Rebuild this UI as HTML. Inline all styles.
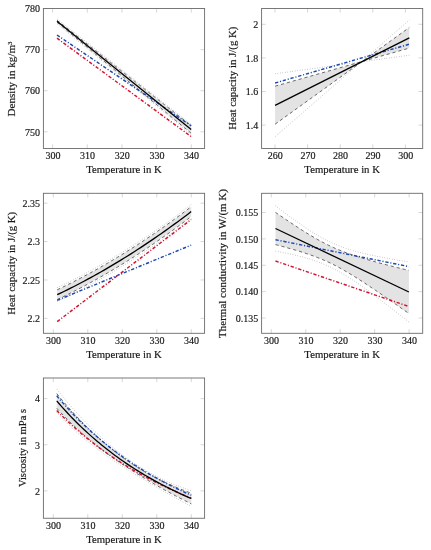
<!DOCTYPE html>
<html><head><meta charset="utf-8"><style>
html,body{margin:0;padding:0;background:#fff;}
svg{display:block;}
text{font-family:"Liberation Serif", serif;fill:#1a1a1a;stroke:#1a1a1a;stroke-width:0.18px;}
</style></head><body>
<svg width="431" height="550" viewBox="0 0 431 550">
<rect width="431" height="550" fill="#fff"/>
<polygon points="57.00,20.30 60.35,22.93 63.71,25.57 67.06,28.20 70.42,30.84 73.78,33.48 77.13,36.11 80.48,38.74 83.84,41.38 87.19,44.01 90.55,46.65 93.91,49.29 97.26,51.92 100.61,54.56 103.97,57.19 107.32,59.83 110.68,62.46 114.03,65.10 117.39,67.73 120.74,70.36 124.10,73.00 127.45,75.64 130.81,78.27 134.16,80.91 137.52,83.54 140.88,86.17 144.23,88.81 147.58,91.44 150.94,94.08 154.29,96.72 157.65,99.35 161.00,101.98 164.36,104.62 167.71,107.25 171.07,109.89 174.43,112.53 177.78,115.16 181.13,117.80 184.49,120.43 187.84,123.06 191.20,125.70 191.20,133.30 187.84,130.52 184.49,127.75 181.13,124.98 177.78,122.20 174.43,119.43 171.07,116.65 167.71,113.87 164.36,111.10 161.00,108.33 157.65,105.55 154.29,102.78 150.94,100.00 147.58,97.22 144.23,94.45 140.88,91.67 137.52,88.90 134.16,86.12 130.81,83.35 127.45,80.58 124.10,77.80 120.74,75.02 117.39,72.25 114.03,69.48 110.68,66.70 107.32,63.92 103.97,61.15 100.61,58.38 97.26,55.60 93.91,52.83 90.55,50.05 87.19,47.27 83.84,44.50 80.48,41.73 77.13,38.95 73.78,36.18 70.42,33.40 67.06,30.62 63.71,27.85 60.35,25.07 57.00,22.30" fill="#e3e3e3" stroke="none"/>
<polyline points="57.00,18.90 60.35,21.54 63.71,24.17 67.06,26.80 70.42,29.44 73.78,32.08 77.13,34.71 80.48,37.34 83.84,39.98 87.19,42.61 90.55,45.25 93.91,47.89 97.26,50.52 100.61,53.16 103.97,55.79 107.32,58.43 110.68,61.06 114.03,63.70 117.39,66.33 120.74,68.96 124.10,71.60 127.45,74.23 130.81,76.87 134.16,79.50 137.52,82.14 140.88,84.77 144.23,87.41 147.58,90.04 150.94,92.68 154.29,95.31 157.65,97.95 161.00,100.58 164.36,103.22 167.71,105.85 171.07,108.49 174.43,111.13 177.78,113.76 181.13,116.39 184.49,119.03 187.84,121.66 191.20,124.30" fill="none" stroke="#5a5a5a" stroke-width="0.6" stroke-dasharray="0.55 1.95" stroke-linecap="butt" />
<polyline points="57.00,23.70 60.35,26.47 63.71,29.25 67.06,32.02 70.42,34.80 73.78,37.58 77.13,40.35 80.48,43.12 83.84,45.90 87.19,48.67 90.55,51.45 93.91,54.23 97.26,57.00 100.61,59.77 103.97,62.55 107.32,65.33 110.68,68.10 114.03,70.88 117.39,73.65 120.74,76.42 124.10,79.20 127.45,81.98 130.81,84.75 134.16,87.53 137.52,90.30 140.88,93.08 144.23,95.85 147.58,98.62 150.94,101.40 154.29,104.18 157.65,106.95 161.00,109.73 164.36,112.50 167.71,115.27 171.07,118.05 174.43,120.83 177.78,123.60 181.13,126.38 184.49,129.15 187.84,131.92 191.20,134.70" fill="none" stroke="#5a5a5a" stroke-width="0.6" stroke-dasharray="0.55 1.95" stroke-linecap="butt" />
<polyline points="57.00,20.30 60.35,22.93 63.71,25.57 67.06,28.20 70.42,30.84 73.78,33.48 77.13,36.11 80.48,38.74 83.84,41.38 87.19,44.01 90.55,46.65 93.91,49.29 97.26,51.92 100.61,54.56 103.97,57.19 107.32,59.83 110.68,62.46 114.03,65.10 117.39,67.73 120.74,70.36 124.10,73.00 127.45,75.64 130.81,78.27 134.16,80.91 137.52,83.54 140.88,86.17 144.23,88.81 147.58,91.44 150.94,94.08 154.29,96.72 157.65,99.35 161.00,101.98 164.36,104.62 167.71,107.25 171.07,109.89 174.43,112.53 177.78,115.16 181.13,117.80 184.49,120.43 187.84,123.06 191.20,125.70" fill="none" stroke="#444" stroke-width="0.8" stroke-dasharray="3.2 2.9" stroke-linecap="butt" />
<polyline points="57.00,22.30 60.35,25.07 63.71,27.85 67.06,30.62 70.42,33.40 73.78,36.18 77.13,38.95 80.48,41.73 83.84,44.50 87.19,47.27 90.55,50.05 93.91,52.83 97.26,55.60 100.61,58.38 103.97,61.15 107.32,63.92 110.68,66.70 114.03,69.48 117.39,72.25 120.74,75.02 124.10,77.80 127.45,80.58 130.81,83.35 134.16,86.12 137.52,88.90 140.88,91.67 144.23,94.45 147.58,97.22 150.94,100.00 154.29,102.78 157.65,105.55 161.00,108.33 164.36,111.10 167.71,113.87 171.07,116.65 174.43,119.43 177.78,122.20 181.13,124.98 184.49,127.75 187.84,130.52 191.20,133.30" fill="none" stroke="#444" stroke-width="0.8" stroke-dasharray="3.2 2.9" stroke-linecap="butt" />
<polyline points="57.00,38.20 191.20,136.60" fill="none" stroke="#d4112e" stroke-width="1.45" stroke-dasharray="3.3 1.8 1.1 1.8" stroke-linecap="butt" />
<polyline points="57.00,35.00 191.20,125.80" fill="none" stroke="#1a48b0" stroke-width="1.45" stroke-dasharray="3.3 1.8 1.1 1.8" stroke-linecap="butt" />
<polyline points="57.00,21.30 191.20,129.50" fill="none" stroke="#000" stroke-width="1.3" stroke-linecap="butt" />
<line x1="52.60" y1="148.50" x2="52.60" y2="144.40" stroke="#cdcdcd" stroke-width="0.8"/>
<line x1="52.60" y1="8.50" x2="52.60" y2="12.60" stroke="#cdcdcd" stroke-width="0.8"/>
<line x1="87.28" y1="148.50" x2="87.28" y2="144.40" stroke="#cdcdcd" stroke-width="0.8"/>
<line x1="87.28" y1="8.50" x2="87.28" y2="12.60" stroke="#cdcdcd" stroke-width="0.8"/>
<line x1="121.95" y1="148.50" x2="121.95" y2="144.40" stroke="#cdcdcd" stroke-width="0.8"/>
<line x1="121.95" y1="8.50" x2="121.95" y2="12.60" stroke="#cdcdcd" stroke-width="0.8"/>
<line x1="156.63" y1="148.50" x2="156.63" y2="144.40" stroke="#cdcdcd" stroke-width="0.8"/>
<line x1="156.63" y1="8.50" x2="156.63" y2="12.60" stroke="#cdcdcd" stroke-width="0.8"/>
<line x1="191.30" y1="148.50" x2="191.30" y2="144.40" stroke="#cdcdcd" stroke-width="0.8"/>
<line x1="191.30" y1="8.50" x2="191.30" y2="12.60" stroke="#cdcdcd" stroke-width="0.8"/>
<line x1="43.40" y1="131.80" x2="47.50" y2="131.80" stroke="#cdcdcd" stroke-width="0.8"/>
<line x1="204.60" y1="131.80" x2="200.50" y2="131.80" stroke="#cdcdcd" stroke-width="0.8"/>
<line x1="43.40" y1="90.73" x2="47.50" y2="90.73" stroke="#cdcdcd" stroke-width="0.8"/>
<line x1="204.60" y1="90.73" x2="200.50" y2="90.73" stroke="#cdcdcd" stroke-width="0.8"/>
<line x1="43.40" y1="49.67" x2="47.50" y2="49.67" stroke="#cdcdcd" stroke-width="0.8"/>
<line x1="204.60" y1="49.67" x2="200.50" y2="49.67" stroke="#cdcdcd" stroke-width="0.8"/>
<line x1="43.40" y1="8.60" x2="47.50" y2="8.60" stroke="#cdcdcd" stroke-width="0.8"/>
<line x1="204.60" y1="8.60" x2="200.50" y2="8.60" stroke="#cdcdcd" stroke-width="0.8"/>
<rect x="43.40" y="8.50" width="161.20" height="140.00" fill="none" stroke="#6a6a6a" stroke-width="0.9"/>
<polygon points="275.10,86.20 409.30,48.10 409.30,27.50 275.10,124.20" fill="#e3e3e3" stroke="none"/>
<polyline points="275.10,73.80 409.30,55.20" fill="none" stroke="#5a5a5a" stroke-width="0.6" stroke-dasharray="0.55 1.95" stroke-linecap="butt" />
<polyline points="275.10,136.70 409.30,20.10" fill="none" stroke="#5a5a5a" stroke-width="0.6" stroke-dasharray="0.55 1.95" stroke-linecap="butt" />
<polyline points="275.10,86.20 409.30,48.10" fill="none" stroke="#444" stroke-width="0.8" stroke-dasharray="3.2 2.9" stroke-linecap="butt" />
<polyline points="275.10,124.20 409.30,27.50" fill="none" stroke="#444" stroke-width="0.8" stroke-dasharray="3.2 2.9" stroke-linecap="butt" />
<polyline points="275.10,83.00 409.30,44.20" fill="none" stroke="#1a48b0" stroke-width="1.45" stroke-dasharray="3.3 1.8 1.1 1.8" stroke-linecap="butt" />
<polyline points="275.10,105.30 409.30,37.90" fill="none" stroke="#000" stroke-width="1.3" stroke-linecap="butt" />
<line x1="275.00" y1="148.50" x2="275.00" y2="144.40" stroke="#cdcdcd" stroke-width="0.8"/>
<line x1="275.00" y1="8.50" x2="275.00" y2="12.60" stroke="#cdcdcd" stroke-width="0.8"/>
<line x1="307.60" y1="148.50" x2="307.60" y2="144.40" stroke="#cdcdcd" stroke-width="0.8"/>
<line x1="307.60" y1="8.50" x2="307.60" y2="12.60" stroke="#cdcdcd" stroke-width="0.8"/>
<line x1="340.20" y1="148.50" x2="340.20" y2="144.40" stroke="#cdcdcd" stroke-width="0.8"/>
<line x1="340.20" y1="8.50" x2="340.20" y2="12.60" stroke="#cdcdcd" stroke-width="0.8"/>
<line x1="372.80" y1="148.50" x2="372.80" y2="144.40" stroke="#cdcdcd" stroke-width="0.8"/>
<line x1="372.80" y1="8.50" x2="372.80" y2="12.60" stroke="#cdcdcd" stroke-width="0.8"/>
<line x1="405.40" y1="148.50" x2="405.40" y2="144.40" stroke="#cdcdcd" stroke-width="0.8"/>
<line x1="405.40" y1="8.50" x2="405.40" y2="12.60" stroke="#cdcdcd" stroke-width="0.8"/>
<line x1="261.60" y1="125.10" x2="265.70" y2="125.10" stroke="#cdcdcd" stroke-width="0.8"/>
<line x1="422.70" y1="125.10" x2="418.60" y2="125.10" stroke="#cdcdcd" stroke-width="0.8"/>
<line x1="261.60" y1="91.50" x2="265.70" y2="91.50" stroke="#cdcdcd" stroke-width="0.8"/>
<line x1="422.70" y1="91.50" x2="418.60" y2="91.50" stroke="#cdcdcd" stroke-width="0.8"/>
<line x1="261.60" y1="57.90" x2="265.70" y2="57.90" stroke="#cdcdcd" stroke-width="0.8"/>
<line x1="422.70" y1="57.90" x2="418.60" y2="57.90" stroke="#cdcdcd" stroke-width="0.8"/>
<line x1="261.60" y1="24.30" x2="265.70" y2="24.30" stroke="#cdcdcd" stroke-width="0.8"/>
<line x1="422.70" y1="24.30" x2="418.60" y2="24.30" stroke="#cdcdcd" stroke-width="0.8"/>
<rect x="261.60" y="8.50" width="161.10" height="140.00" fill="none" stroke="#6a6a6a" stroke-width="0.9"/>
<polygon points="57.20,289.80 60.55,288.20 63.90,286.58 67.25,284.93 70.60,283.25 73.95,281.56 77.30,279.83 80.65,278.09 84.00,276.32 87.35,274.52 90.70,272.70 94.05,270.85 97.40,268.99 100.75,267.09 104.10,265.17 107.45,263.23 110.80,261.26 114.15,259.27 117.50,257.25 120.85,255.21 124.20,253.15 127.55,251.06 130.90,248.94 134.25,246.81 137.60,244.64 140.95,242.46 144.30,240.24 147.65,238.01 151.00,235.75 154.35,233.46 157.70,231.15 161.05,228.81 164.40,226.46 167.75,224.07 171.10,221.66 174.45,219.23 177.80,216.77 181.15,214.29 184.50,211.79 187.85,209.26 191.20,206.70 191.20,216.50 187.85,219.06 184.50,221.59 181.15,224.09 177.80,226.57 174.45,229.03 171.10,231.46 167.75,233.87 164.40,236.26 161.05,238.61 157.70,240.95 154.35,243.26 151.00,245.55 147.65,247.81 144.30,250.04 140.95,252.26 137.60,254.44 134.25,256.61 130.90,258.74 127.55,260.86 124.20,262.95 120.85,265.01 117.50,267.05 114.15,269.07 110.80,271.06 107.45,273.03 104.10,274.97 100.75,276.89 97.40,278.79 94.05,280.65 90.70,282.50 87.35,284.32 84.00,286.12 80.65,287.89 77.30,289.63 73.95,291.36 70.60,293.05 67.25,294.73 63.90,296.38 60.55,298.00 57.20,299.60" fill="#e3e3e3" stroke="none"/>
<polyline points="57.20,287.70 60.55,286.10 63.90,284.48 67.25,282.83 70.60,281.15 73.95,279.46 77.30,277.73 80.65,275.99 84.00,274.22 87.35,272.42 90.70,270.60 94.05,268.75 97.40,266.89 100.75,264.99 104.10,263.07 107.45,261.13 110.80,259.16 114.15,257.17 117.50,255.15 120.85,253.11 124.20,251.05 127.55,248.96 130.90,246.84 134.25,244.71 137.60,242.54 140.95,240.36 144.30,238.14 147.65,235.91 151.00,233.65 154.35,231.36 157.70,229.05 161.05,226.71 164.40,224.36 167.75,221.97 171.10,219.56 174.45,217.13 177.80,214.67 181.15,212.19 184.50,209.69 187.85,207.16 191.20,204.60" fill="none" stroke="#5a5a5a" stroke-width="0.6" stroke-dasharray="0.55 1.95" stroke-linecap="butt" />
<polyline points="57.20,301.70 60.55,300.10 63.90,298.48 67.25,296.83 70.60,295.15 73.95,293.46 77.30,291.73 80.65,289.99 84.00,288.22 87.35,286.42 90.70,284.60 94.05,282.75 97.40,280.89 100.75,278.99 104.10,277.07 107.45,275.13 110.80,273.16 114.15,271.17 117.50,269.15 120.85,267.11 124.20,265.05 127.55,262.96 130.90,260.84 134.25,258.71 137.60,256.54 140.95,254.36 144.30,252.14 147.65,249.91 151.00,247.65 154.35,245.36 157.70,243.05 161.05,240.71 164.40,238.36 167.75,235.97 171.10,233.56 174.45,231.13 177.80,228.67 181.15,226.19 184.50,223.69 187.85,221.16 191.20,218.60" fill="none" stroke="#5a5a5a" stroke-width="0.6" stroke-dasharray="0.55 1.95" stroke-linecap="butt" />
<polyline points="57.20,289.80 60.55,288.20 63.90,286.58 67.25,284.93 70.60,283.25 73.95,281.56 77.30,279.83 80.65,278.09 84.00,276.32 87.35,274.52 90.70,272.70 94.05,270.85 97.40,268.99 100.75,267.09 104.10,265.17 107.45,263.23 110.80,261.26 114.15,259.27 117.50,257.25 120.85,255.21 124.20,253.15 127.55,251.06 130.90,248.94 134.25,246.81 137.60,244.64 140.95,242.46 144.30,240.24 147.65,238.01 151.00,235.75 154.35,233.46 157.70,231.15 161.05,228.81 164.40,226.46 167.75,224.07 171.10,221.66 174.45,219.23 177.80,216.77 181.15,214.29 184.50,211.79 187.85,209.26 191.20,206.70" fill="none" stroke="#444" stroke-width="0.8" stroke-dasharray="3.2 2.9" stroke-linecap="butt" />
<polyline points="57.20,299.60 60.55,298.00 63.90,296.38 67.25,294.73 70.60,293.05 73.95,291.36 77.30,289.63 80.65,287.89 84.00,286.12 87.35,284.32 90.70,282.50 94.05,280.65 97.40,278.79 100.75,276.89 104.10,274.97 107.45,273.03 110.80,271.06 114.15,269.07 117.50,267.05 120.85,265.01 124.20,262.95 127.55,260.86 130.90,258.74 134.25,256.61 137.60,254.44 140.95,252.26 144.30,250.04 147.65,247.81 151.00,245.55 154.35,243.26 157.70,240.95 161.05,238.61 164.40,236.26 167.75,233.87 171.10,231.46 174.45,229.03 177.80,226.57 181.15,224.09 184.50,221.59 187.85,219.06 191.20,216.50" fill="none" stroke="#444" stroke-width="0.8" stroke-dasharray="3.2 2.9" stroke-linecap="butt" />
<polyline points="57.20,321.60 191.20,219.50" fill="none" stroke="#d4112e" stroke-width="1.45" stroke-dasharray="3.3 1.8 1.1 1.8" stroke-linecap="butt" />
<polyline points="57.20,300.30 191.20,245.10" fill="none" stroke="#1a48b0" stroke-width="1.45" stroke-dasharray="3.3 1.8 1.1 1.8" stroke-linecap="butt" />
<polyline points="57.20,294.70 60.55,293.10 63.90,291.48 67.25,289.83 70.60,288.15 73.95,286.46 77.30,284.73 80.65,282.99 84.00,281.22 87.35,279.42 90.70,277.60 94.05,275.75 97.40,273.89 100.75,271.99 104.10,270.07 107.45,268.13 110.80,266.16 114.15,264.17 117.50,262.15 120.85,260.11 124.20,258.05 127.55,255.96 130.90,253.84 134.25,251.71 137.60,249.54 140.95,247.36 144.30,245.14 147.65,242.91 151.00,240.65 154.35,238.36 157.70,236.05 161.05,233.71 164.40,231.36 167.75,228.97 171.10,226.56 174.45,224.13 177.80,221.67 181.15,219.19 184.50,216.69 187.85,214.16 191.20,211.60" fill="none" stroke="#000" stroke-width="1.3" stroke-linecap="butt" />
<line x1="53.30" y1="333.30" x2="53.30" y2="329.20" stroke="#cdcdcd" stroke-width="0.8"/>
<line x1="53.30" y1="193.30" x2="53.30" y2="197.40" stroke="#cdcdcd" stroke-width="0.8"/>
<line x1="87.80" y1="333.30" x2="87.80" y2="329.20" stroke="#cdcdcd" stroke-width="0.8"/>
<line x1="87.80" y1="193.30" x2="87.80" y2="197.40" stroke="#cdcdcd" stroke-width="0.8"/>
<line x1="122.30" y1="333.30" x2="122.30" y2="329.20" stroke="#cdcdcd" stroke-width="0.8"/>
<line x1="122.30" y1="193.30" x2="122.30" y2="197.40" stroke="#cdcdcd" stroke-width="0.8"/>
<line x1="156.80" y1="333.30" x2="156.80" y2="329.20" stroke="#cdcdcd" stroke-width="0.8"/>
<line x1="156.80" y1="193.30" x2="156.80" y2="197.40" stroke="#cdcdcd" stroke-width="0.8"/>
<line x1="191.30" y1="333.30" x2="191.30" y2="329.20" stroke="#cdcdcd" stroke-width="0.8"/>
<line x1="191.30" y1="193.30" x2="191.30" y2="197.40" stroke="#cdcdcd" stroke-width="0.8"/>
<line x1="43.40" y1="318.35" x2="47.50" y2="318.35" stroke="#cdcdcd" stroke-width="0.8"/>
<line x1="204.60" y1="318.35" x2="200.50" y2="318.35" stroke="#cdcdcd" stroke-width="0.8"/>
<line x1="43.40" y1="279.97" x2="47.50" y2="279.97" stroke="#cdcdcd" stroke-width="0.8"/>
<line x1="204.60" y1="279.97" x2="200.50" y2="279.97" stroke="#cdcdcd" stroke-width="0.8"/>
<line x1="43.40" y1="241.58" x2="47.50" y2="241.58" stroke="#cdcdcd" stroke-width="0.8"/>
<line x1="204.60" y1="241.58" x2="200.50" y2="241.58" stroke="#cdcdcd" stroke-width="0.8"/>
<line x1="43.40" y1="203.20" x2="47.50" y2="203.20" stroke="#cdcdcd" stroke-width="0.8"/>
<line x1="204.60" y1="203.20" x2="200.50" y2="203.20" stroke="#cdcdcd" stroke-width="0.8"/>
<rect x="43.40" y="193.30" width="161.20" height="140.00" fill="none" stroke="#6a6a6a" stroke-width="0.9"/>
<polygon points="275.50,212.40 277.72,213.93 279.95,215.46 282.17,216.97 284.39,218.48 286.62,219.99 288.84,221.48 291.06,222.97 293.29,224.44 295.51,225.90 297.73,227.35 299.96,228.79 302.18,230.21 304.40,231.62 306.63,233.00 308.85,234.37 311.07,235.71 313.30,237.03 315.52,238.32 317.74,239.58 319.97,240.82 322.19,242.02 324.41,243.18 326.64,244.31 328.86,245.41 331.08,246.47 333.31,247.49 335.53,248.48 337.75,249.43 339.98,250.34 342.20,251.23 344.42,252.08 346.65,252.91 348.87,253.71 351.09,254.48 353.32,255.23 355.54,255.97 357.76,256.68 359.99,257.37 362.21,258.05 364.43,258.72 366.66,259.38 368.88,260.02 371.10,260.65 373.33,261.27 375.55,261.89 377.77,262.49 380.00,263.09 382.22,263.69 384.44,264.27 386.67,264.85 388.89,265.43 391.11,266.00 393.34,266.57 395.56,267.14 397.78,267.70 400.01,268.25 402.23,268.81 404.45,269.36 406.68,269.91 408.90,270.45 408.90,313.55 406.68,311.97 404.45,310.41 402.23,308.84 400.01,307.28 397.78,305.72 395.56,304.16 393.34,302.61 391.11,301.06 388.89,299.52 386.67,297.98 384.44,296.44 382.22,294.91 380.00,293.39 377.77,291.87 375.55,290.36 373.33,288.86 371.10,287.37 368.88,285.88 366.66,284.41 364.43,282.95 362.21,281.50 359.99,280.06 357.76,278.64 355.54,277.23 353.32,275.85 351.09,274.48 348.87,273.14 346.65,271.82 344.42,270.53 342.20,269.27 339.98,268.04 337.75,266.84 335.53,265.67 333.31,264.54 331.08,263.45 328.86,262.39 326.64,261.37 324.41,260.38 322.19,259.43 319.97,258.52 317.74,257.63 315.52,256.78 313.30,255.96 311.07,255.16 308.85,254.38 306.63,253.63 304.40,252.90 302.18,252.19 299.96,251.49 297.73,250.81 295.51,250.15 293.29,249.49 291.06,248.85 288.84,248.22 286.62,247.60 284.39,246.98 282.17,246.38 279.95,245.78 277.72,245.18 275.50,244.60" fill="#e3e3e3" stroke="none"/>
<polyline points="275.50,205.86 277.72,207.56 279.95,209.25 282.17,210.93 284.39,212.59 286.62,214.25 288.84,215.89 291.06,217.53 293.29,219.14 295.51,220.74 297.73,222.32 299.96,223.88 302.18,225.42 304.40,226.94 306.63,228.43 308.85,229.89 311.07,231.33 313.30,232.73 315.52,234.09 317.74,235.42 319.97,236.70 322.19,237.95 324.41,239.14 326.64,240.30 328.86,241.40 331.08,242.46 333.31,243.47 335.53,244.44 337.75,245.36 339.98,246.23 342.20,247.06 344.42,247.86 346.65,248.61 348.87,249.33 351.09,250.01 353.32,250.67 355.54,251.29 357.76,251.89 359.99,252.47 362.21,253.03 364.43,253.56 366.66,254.08 368.88,254.58 371.10,255.07 373.33,255.54 375.55,256.00 377.77,256.45 380.00,256.89 382.22,257.32 384.44,257.74 386.67,258.15 388.89,258.56 391.11,258.95 393.34,259.35 395.56,259.73 397.78,260.11 400.01,260.49 402.23,260.86 404.45,261.23 406.68,261.59 408.90,261.95" fill="none" stroke="#5a5a5a" stroke-width="0.6" stroke-dasharray="0.55 1.95" stroke-linecap="butt" />
<polyline points="275.50,251.14 277.72,251.56 279.95,251.99 282.17,252.42 284.39,252.87 286.62,253.33 288.84,253.81 291.06,254.29 293.29,254.79 295.51,255.31 297.73,255.84 299.96,256.40 302.18,256.98 304.40,257.58 306.63,258.20 308.85,258.86 311.07,259.54 313.30,260.26 315.52,261.01 317.74,261.80 319.97,262.63 322.19,263.50 324.41,264.42 326.64,265.39 328.86,266.40 331.08,267.45 333.31,268.56 335.53,269.71 337.75,270.91 339.98,272.15 342.20,273.44 344.42,274.76 346.65,276.12 348.87,277.52 351.09,278.95 353.32,280.42 355.54,281.91 357.76,283.42 359.99,284.96 362.21,286.52 364.43,288.10 366.66,289.70 368.88,291.32 371.10,292.95 373.33,294.59 375.55,296.25 377.77,297.92 380.00,299.59 382.22,301.28 384.44,302.98 386.67,304.68 388.89,306.39 391.11,308.11 393.34,309.84 395.56,311.57 397.78,313.30 400.01,315.05 402.23,316.79 404.45,318.54 406.68,320.29 408.90,322.05" fill="none" stroke="#5a5a5a" stroke-width="0.6" stroke-dasharray="0.55 1.95" stroke-linecap="butt" />
<polyline points="275.50,212.40 277.72,213.93 279.95,215.46 282.17,216.97 284.39,218.48 286.62,219.99 288.84,221.48 291.06,222.97 293.29,224.44 295.51,225.90 297.73,227.35 299.96,228.79 302.18,230.21 304.40,231.62 306.63,233.00 308.85,234.37 311.07,235.71 313.30,237.03 315.52,238.32 317.74,239.58 319.97,240.82 322.19,242.02 324.41,243.18 326.64,244.31 328.86,245.41 331.08,246.47 333.31,247.49 335.53,248.48 337.75,249.43 339.98,250.34 342.20,251.23 344.42,252.08 346.65,252.91 348.87,253.71 351.09,254.48 353.32,255.23 355.54,255.97 357.76,256.68 359.99,257.37 362.21,258.05 364.43,258.72 366.66,259.38 368.88,260.02 371.10,260.65 373.33,261.27 375.55,261.89 377.77,262.49 380.00,263.09 382.22,263.69 384.44,264.27 386.67,264.85 388.89,265.43 391.11,266.00 393.34,266.57 395.56,267.14 397.78,267.70 400.01,268.25 402.23,268.81 404.45,269.36 406.68,269.91 408.90,270.45" fill="none" stroke="#444" stroke-width="0.8" stroke-dasharray="3.2 2.9" stroke-linecap="butt" />
<polyline points="275.50,244.60 277.72,245.18 279.95,245.78 282.17,246.38 284.39,246.98 286.62,247.60 288.84,248.22 291.06,248.85 293.29,249.49 295.51,250.15 297.73,250.81 299.96,251.49 302.18,252.19 304.40,252.90 306.63,253.63 308.85,254.38 311.07,255.16 313.30,255.96 315.52,256.78 317.74,257.63 319.97,258.52 322.19,259.43 324.41,260.38 326.64,261.37 328.86,262.39 331.08,263.45 333.31,264.54 335.53,265.67 337.75,266.84 339.98,268.04 342.20,269.27 344.42,270.53 346.65,271.82 348.87,273.14 351.09,274.48 353.32,275.85 355.54,277.23 357.76,278.64 359.99,280.06 362.21,281.50 364.43,282.95 366.66,284.41 368.88,285.88 371.10,287.37 373.33,288.86 375.55,290.36 377.77,291.87 380.00,293.39 382.22,294.91 384.44,296.44 386.67,297.98 388.89,299.52 391.11,301.06 393.34,302.61 395.56,304.16 397.78,305.72 400.01,307.28 402.23,308.84 404.45,310.41 406.68,311.97 408.90,313.55" fill="none" stroke="#444" stroke-width="0.8" stroke-dasharray="3.2 2.9" stroke-linecap="butt" />
<polyline points="275.50,261.00 408.90,306.50" fill="none" stroke="#d4112e" stroke-width="1.45" stroke-dasharray="3.3 1.8 1.1 1.8" stroke-linecap="butt" />
<polyline points="275.50,239.70 408.90,266.60" fill="none" stroke="#1a48b0" stroke-width="1.45" stroke-dasharray="3.3 1.8 1.1 1.8" stroke-linecap="butt" />
<polyline points="275.50,228.50 408.90,292.00" fill="none" stroke="#000" stroke-width="1.3" stroke-linecap="butt" />
<line x1="271.30" y1="333.30" x2="271.30" y2="329.20" stroke="#cdcdcd" stroke-width="0.8"/>
<line x1="271.30" y1="193.30" x2="271.30" y2="197.40" stroke="#cdcdcd" stroke-width="0.8"/>
<line x1="305.75" y1="333.30" x2="305.75" y2="329.20" stroke="#cdcdcd" stroke-width="0.8"/>
<line x1="305.75" y1="193.30" x2="305.75" y2="197.40" stroke="#cdcdcd" stroke-width="0.8"/>
<line x1="340.20" y1="333.30" x2="340.20" y2="329.20" stroke="#cdcdcd" stroke-width="0.8"/>
<line x1="340.20" y1="193.30" x2="340.20" y2="197.40" stroke="#cdcdcd" stroke-width="0.8"/>
<line x1="374.65" y1="333.30" x2="374.65" y2="329.20" stroke="#cdcdcd" stroke-width="0.8"/>
<line x1="374.65" y1="193.30" x2="374.65" y2="197.40" stroke="#cdcdcd" stroke-width="0.8"/>
<line x1="409.10" y1="333.30" x2="409.10" y2="329.20" stroke="#cdcdcd" stroke-width="0.8"/>
<line x1="409.10" y1="193.30" x2="409.10" y2="197.40" stroke="#cdcdcd" stroke-width="0.8"/>
<line x1="261.60" y1="318.00" x2="265.70" y2="318.00" stroke="#cdcdcd" stroke-width="0.8"/>
<line x1="422.70" y1="318.00" x2="418.60" y2="318.00" stroke="#cdcdcd" stroke-width="0.8"/>
<line x1="261.60" y1="291.62" x2="265.70" y2="291.62" stroke="#cdcdcd" stroke-width="0.8"/>
<line x1="422.70" y1="291.62" x2="418.60" y2="291.62" stroke="#cdcdcd" stroke-width="0.8"/>
<line x1="261.60" y1="265.25" x2="265.70" y2="265.25" stroke="#cdcdcd" stroke-width="0.8"/>
<line x1="422.70" y1="265.25" x2="418.60" y2="265.25" stroke="#cdcdcd" stroke-width="0.8"/>
<line x1="261.60" y1="238.88" x2="265.70" y2="238.88" stroke="#cdcdcd" stroke-width="0.8"/>
<line x1="422.70" y1="238.88" x2="418.60" y2="238.88" stroke="#cdcdcd" stroke-width="0.8"/>
<line x1="261.60" y1="212.50" x2="265.70" y2="212.50" stroke="#cdcdcd" stroke-width="0.8"/>
<line x1="422.70" y1="212.50" x2="418.60" y2="212.50" stroke="#cdcdcd" stroke-width="0.8"/>
<rect x="261.60" y="193.30" width="161.10" height="140.00" fill="none" stroke="#6a6a6a" stroke-width="0.9"/>
<polygon points="56.75,393.57 58.99,396.33 61.24,399.05 63.48,401.72 65.72,404.34 67.96,406.91 70.20,409.44 72.45,411.93 74.69,414.37 76.93,416.77 79.17,419.13 81.42,421.44 83.66,423.72 85.90,425.95 88.15,428.15 90.39,430.30 92.63,432.42 94.87,434.50 97.11,436.55 99.36,438.55 101.60,440.53 103.84,442.46 106.09,444.36 108.33,446.23 110.57,448.06 112.81,449.85 115.05,451.61 117.30,453.34 119.54,455.03 121.78,456.68 124.02,458.31 126.27,459.90 128.51,461.45 130.75,462.97 133.00,464.46 135.24,465.92 137.48,467.34 139.72,468.73 141.96,470.08 144.21,471.41 146.45,472.70 148.69,473.97 150.94,475.20 153.18,476.40 155.42,477.58 157.66,478.73 159.90,479.85 162.15,480.95 164.39,482.02 166.63,483.07 168.88,484.09 171.12,485.09 173.36,486.07 175.60,487.03 177.85,487.97 180.09,488.89 182.33,489.79 184.57,490.67 186.81,491.53 189.06,492.37 191.30,493.20 191.30,503.83 189.06,502.73 186.81,501.61 184.57,500.48 182.33,499.34 180.09,498.19 177.85,497.02 175.60,495.84 173.36,494.65 171.12,493.45 168.88,492.23 166.63,491.00 164.39,489.76 162.15,488.51 159.90,487.25 157.66,485.97 155.42,484.68 153.18,483.38 150.94,482.07 148.69,480.74 146.45,479.41 144.21,478.06 141.96,476.70 139.72,475.33 137.48,473.94 135.24,472.54 133.00,471.13 130.75,469.70 128.51,468.26 126.27,466.80 124.02,465.33 121.78,463.83 119.54,462.32 117.30,460.79 115.05,459.23 112.81,457.66 110.57,456.06 108.33,454.44 106.09,452.79 103.84,451.12 101.60,449.42 99.36,447.69 97.11,445.94 94.87,444.15 92.63,442.33 90.39,440.48 88.15,438.60 85.90,436.69 83.66,434.73 81.42,432.75 79.17,430.73 76.93,428.66 74.69,426.56 72.45,424.43 70.20,422.25 67.96,420.02 65.72,417.76 63.48,415.45 61.24,413.10 58.99,410.70 56.75,408.25" fill="#e3e3e3" stroke="none"/>
<polyline points="56.75,389.04 58.99,391.90 61.24,394.70 63.48,397.46 65.72,400.17 67.96,402.84 70.20,405.45 72.45,408.03 74.69,410.56 76.93,413.04 79.17,415.48 81.42,417.88 83.66,420.24 85.90,422.56 88.15,424.84 90.39,427.08 92.63,429.28 94.87,431.44 97.11,433.57 99.36,435.65 101.60,437.70 103.84,439.71 106.09,441.69 108.33,443.63 110.57,445.53 112.81,447.39 115.05,449.22 117.30,451.01 119.54,452.77 121.78,454.49 124.02,456.17 126.27,457.81 128.51,459.42 130.75,460.99 133.00,462.52 135.24,464.01 137.48,465.47 139.72,466.89 141.96,468.27 144.21,469.62 146.45,470.92 148.69,472.20 150.94,473.43 153.18,474.63 155.42,475.80 157.66,476.94 159.90,478.04 162.15,479.11 164.39,480.16 166.63,481.17 168.88,482.15 171.12,483.11 173.36,484.05 175.60,484.96 177.85,485.84 180.09,486.70 182.33,487.54 184.57,488.36 186.81,489.16 189.06,489.93 191.30,490.69" fill="none" stroke="#5a5a5a" stroke-width="0.6" stroke-dasharray="0.55 1.95" stroke-linecap="butt" />
<polyline points="56.75,412.77 58.99,415.13 61.24,417.44 63.48,419.71 65.72,421.93 67.96,424.10 70.20,426.24 72.45,428.33 74.69,430.38 76.93,432.39 79.17,434.37 81.42,436.31 83.66,438.21 85.90,440.07 88.15,441.91 90.39,443.71 92.63,445.47 94.87,447.21 97.11,448.92 99.36,450.59 101.60,452.24 103.84,453.87 106.09,455.47 108.33,457.04 110.57,458.59 112.81,460.12 115.05,461.62 117.30,463.11 119.54,464.58 121.78,466.03 124.02,467.47 126.27,468.89 128.51,470.29 130.75,471.69 133.00,473.07 135.24,474.45 137.48,475.81 139.72,477.16 141.96,478.51 144.21,479.85 146.45,481.19 148.69,482.51 150.94,483.84 153.18,485.15 155.42,486.46 157.66,487.76 159.90,489.06 162.15,490.35 164.39,491.63 166.63,492.90 168.88,494.17 171.12,495.43 173.36,496.68 175.60,497.92 177.85,499.15 180.09,500.37 182.33,501.59 184.57,502.79 186.81,503.98 189.06,505.17 191.30,506.34" fill="none" stroke="#5a5a5a" stroke-width="0.6" stroke-dasharray="0.55 1.95" stroke-linecap="butt" />
<polyline points="56.75,393.57 58.99,396.33 61.24,399.05 63.48,401.72 65.72,404.34 67.96,406.91 70.20,409.44 72.45,411.93 74.69,414.37 76.93,416.77 79.17,419.13 81.42,421.44 83.66,423.72 85.90,425.95 88.15,428.15 90.39,430.30 92.63,432.42 94.87,434.50 97.11,436.55 99.36,438.55 101.60,440.53 103.84,442.46 106.09,444.36 108.33,446.23 110.57,448.06 112.81,449.85 115.05,451.61 117.30,453.34 119.54,455.03 121.78,456.68 124.02,458.31 126.27,459.90 128.51,461.45 130.75,462.97 133.00,464.46 135.24,465.92 137.48,467.34 139.72,468.73 141.96,470.08 144.21,471.41 146.45,472.70 148.69,473.97 150.94,475.20 153.18,476.40 155.42,477.58 157.66,478.73 159.90,479.85 162.15,480.95 164.39,482.02 166.63,483.07 168.88,484.09 171.12,485.09 173.36,486.07 175.60,487.03 177.85,487.97 180.09,488.89 182.33,489.79 184.57,490.67 186.81,491.53 189.06,492.37 191.30,493.20" fill="none" stroke="#444" stroke-width="0.8" stroke-dasharray="3.2 2.9" stroke-linecap="butt" />
<polyline points="56.75,408.25 58.99,410.70 61.24,413.10 63.48,415.45 65.72,417.76 67.96,420.02 70.20,422.25 72.45,424.43 74.69,426.56 76.93,428.66 79.17,430.73 81.42,432.75 83.66,434.73 85.90,436.69 88.15,438.60 90.39,440.48 92.63,442.33 94.87,444.15 97.11,445.94 99.36,447.69 101.60,449.42 103.84,451.12 106.09,452.79 108.33,454.44 110.57,456.06 112.81,457.66 115.05,459.23 117.30,460.79 119.54,462.32 121.78,463.83 124.02,465.33 126.27,466.80 128.51,468.26 130.75,469.70 133.00,471.13 135.24,472.54 137.48,473.94 139.72,475.33 141.96,476.70 144.21,478.06 146.45,479.41 148.69,480.74 150.94,482.07 153.18,483.38 155.42,484.68 157.66,485.97 159.90,487.25 162.15,488.51 164.39,489.76 166.63,491.00 168.88,492.23 171.12,493.45 173.36,494.65 175.60,495.84 177.85,497.02 180.09,498.19 182.33,499.34 184.57,500.48 186.81,501.61 189.06,502.73 191.30,503.83" fill="none" stroke="#444" stroke-width="0.8" stroke-dasharray="3.2 2.9" stroke-linecap="butt" />
<polyline points="56.75,410.60 58.99,412.87 61.24,415.11 63.48,417.31 65.72,419.47 67.96,421.59 70.20,423.68 72.45,425.73 74.69,427.74 76.93,429.72 79.17,431.67 81.42,433.59 83.66,435.47 85.90,437.32 88.15,439.14 90.39,440.93 92.63,442.69 94.87,444.43 97.11,446.13 99.36,447.81 101.60,449.45 103.84,451.08 106.09,452.67 108.33,454.24 110.57,455.78 112.81,457.30 115.05,458.80 117.30,460.27 119.54,461.72 121.78,463.15 124.02,464.55 126.27,465.93 128.51,467.29 130.75,468.63 133.00,469.95 135.24,471.24 137.48,472.52 139.72,473.78 141.96,475.02 144.21,476.24 146.45,477.44 148.69,478.62 150.94,479.79 153.18,480.93 155.42,482.07 157.66,483.18 159.90,484.28 162.15,485.36 164.39,486.42 166.63,487.47 168.88,488.50 171.12,489.52 173.36,490.53 175.60,491.52 177.85,492.49 180.09,493.45 182.33,494.40 184.57,495.33 186.81,496.25 189.06,497.16 191.30,498.05" fill="none" stroke="#d4112e" stroke-width="1.45" stroke-dasharray="3.3 1.8 1.1 1.8" stroke-linecap="butt" />
<polyline points="56.75,395.83 58.99,398.48 61.24,401.07 63.48,403.62 65.72,406.12 67.96,408.58 70.20,410.99 72.45,413.36 74.69,415.69 76.93,417.97 79.17,420.22 81.42,422.42 83.66,424.59 85.90,426.72 88.15,428.81 90.39,430.86 92.63,432.88 94.87,434.86 97.11,436.81 99.36,438.73 101.60,440.61 103.84,442.46 106.09,444.28 108.33,446.07 110.57,447.83 112.81,449.56 115.05,451.26 117.30,452.93 119.54,454.57 121.78,456.19 124.02,457.77 126.27,459.34 128.51,460.88 130.75,462.39 133.00,463.87 135.24,465.34 137.48,466.78 139.72,468.19 141.96,469.59 144.21,470.96 146.45,472.31 148.69,473.64 150.94,474.94 153.18,476.23 155.42,477.49 157.66,478.74 159.90,479.97 162.15,481.17 164.39,482.36 166.63,483.53 168.88,484.69 171.12,485.82 173.36,486.94 175.60,488.04 177.85,489.12 180.09,490.19 182.33,491.24 184.57,492.27 186.81,493.29 189.06,494.30 191.30,495.28" fill="none" stroke="#1a48b0" stroke-width="1.45" stroke-dasharray="3.3 1.8 1.1 1.8" stroke-linecap="butt" />
<polyline points="56.75,400.91 58.99,403.51 61.24,406.07 63.48,408.58 65.72,411.05 67.96,413.47 70.20,415.84 72.45,418.18 74.69,420.47 76.93,422.72 79.17,424.93 81.42,427.10 83.66,429.23 85.90,431.32 88.15,433.37 90.39,435.39 92.63,437.38 94.87,439.33 97.11,441.24 99.36,443.12 101.60,444.97 103.84,446.79 106.09,448.58 108.33,450.33 110.57,452.06 112.81,453.75 115.05,455.42 117.30,457.06 119.54,458.67 121.78,460.26 124.02,461.82 126.27,463.35 128.51,464.86 130.75,466.34 133.00,467.80 135.24,469.23 137.48,470.64 139.72,472.03 141.96,473.39 144.21,474.73 146.45,476.06 148.69,477.36 150.94,478.63 153.18,479.89 155.42,481.13 157.66,482.35 159.90,483.55 162.15,484.73 164.39,485.89 166.63,487.04 168.88,488.16 171.12,489.27 173.36,490.36 175.60,491.44 177.85,492.50 180.09,493.54 182.33,494.56 184.57,495.57 186.81,496.57 189.06,497.55 191.30,498.51" fill="none" stroke="#000" stroke-width="1.3" stroke-linecap="butt" />
<line x1="53.30" y1="518.25" x2="53.30" y2="514.15" stroke="#cdcdcd" stroke-width="0.8"/>
<line x1="53.30" y1="378.00" x2="53.30" y2="382.10" stroke="#cdcdcd" stroke-width="0.8"/>
<line x1="87.80" y1="518.25" x2="87.80" y2="514.15" stroke="#cdcdcd" stroke-width="0.8"/>
<line x1="87.80" y1="378.00" x2="87.80" y2="382.10" stroke="#cdcdcd" stroke-width="0.8"/>
<line x1="122.30" y1="518.25" x2="122.30" y2="514.15" stroke="#cdcdcd" stroke-width="0.8"/>
<line x1="122.30" y1="378.00" x2="122.30" y2="382.10" stroke="#cdcdcd" stroke-width="0.8"/>
<line x1="156.80" y1="518.25" x2="156.80" y2="514.15" stroke="#cdcdcd" stroke-width="0.8"/>
<line x1="156.80" y1="378.00" x2="156.80" y2="382.10" stroke="#cdcdcd" stroke-width="0.8"/>
<line x1="191.30" y1="518.25" x2="191.30" y2="514.15" stroke="#cdcdcd" stroke-width="0.8"/>
<line x1="191.30" y1="378.00" x2="191.30" y2="382.10" stroke="#cdcdcd" stroke-width="0.8"/>
<line x1="43.40" y1="490.90" x2="47.50" y2="490.90" stroke="#cdcdcd" stroke-width="0.8"/>
<line x1="204.60" y1="490.90" x2="200.50" y2="490.90" stroke="#cdcdcd" stroke-width="0.8"/>
<line x1="43.40" y1="444.75" x2="47.50" y2="444.75" stroke="#cdcdcd" stroke-width="0.8"/>
<line x1="204.60" y1="444.75" x2="200.50" y2="444.75" stroke="#cdcdcd" stroke-width="0.8"/>
<line x1="43.40" y1="398.60" x2="47.50" y2="398.60" stroke="#cdcdcd" stroke-width="0.8"/>
<line x1="204.60" y1="398.60" x2="200.50" y2="398.60" stroke="#cdcdcd" stroke-width="0.8"/>
<rect x="43.40" y="378.00" width="161.20" height="140.25" fill="none" stroke="#6a6a6a" stroke-width="0.9"/>
<g style="filter:grayscale(1)">
<text x="52.90" y="159.00" text-anchor="middle" font-size="10.0" >300</text>
<text x="87.58" y="159.00" text-anchor="middle" font-size="10.0" >310</text>
<text x="122.25" y="159.00" text-anchor="middle" font-size="10.0" >320</text>
<text x="156.93" y="159.00" text-anchor="middle" font-size="10.0" >330</text>
<text x="191.60" y="159.00" text-anchor="middle" font-size="10.0" >340</text>
<text x="40.00" y="135.55" text-anchor="end" font-size="10.0" >750</text>
<text x="40.00" y="94.48" text-anchor="end" font-size="10.0" >760</text>
<text x="40.00" y="53.42" text-anchor="end" font-size="10.0" >770</text>
<text x="40.00" y="12.35" text-anchor="end" font-size="10.0" >780</text>
<text x="124.00" y="173.10" text-anchor="middle" font-size="9.6" textLength="75.60" lengthAdjust="spacingAndGlyphs" >Temperature in K</text>
<text x="15.50" y="116.60" text-anchor="start" font-size="9.6" transform="rotate(-90 15.50 116.60)" textLength="71.80" lengthAdjust="spacingAndGlyphs" >Density in kg/m</text>
<text x="11.70" y="44.90" text-anchor="start" font-size="7.0" transform="rotate(-90 11.70 44.90)" >3</text>
<text x="275.30" y="159.00" text-anchor="middle" font-size="10.0" >260</text>
<text x="307.90" y="159.00" text-anchor="middle" font-size="10.0" >270</text>
<text x="340.50" y="159.00" text-anchor="middle" font-size="10.0" >280</text>
<text x="373.10" y="159.00" text-anchor="middle" font-size="10.0" >290</text>
<text x="405.70" y="159.00" text-anchor="middle" font-size="10.0" >300</text>
<text x="258.20" y="128.85" text-anchor="end" font-size="10.0" >1.4</text>
<text x="258.20" y="95.25" text-anchor="end" font-size="10.0" >1.6</text>
<text x="258.20" y="61.65" text-anchor="end" font-size="10.0" >1.8</text>
<text x="258.20" y="28.05" text-anchor="end" font-size="10.0" >2</text>
<text x="342.15" y="173.10" text-anchor="middle" font-size="9.6" textLength="75.60" lengthAdjust="spacingAndGlyphs" >Temperature in K</text>
<text x="236.30" y="78.20" text-anchor="middle" font-size="9.6" transform="rotate(-90 236.30 78.20)" textLength="103.20" lengthAdjust="spacingAndGlyphs" >Heat capacity in J/(g K)</text>
<text x="53.60" y="343.80" text-anchor="middle" font-size="10.0" >300</text>
<text x="88.10" y="343.80" text-anchor="middle" font-size="10.0" >310</text>
<text x="122.60" y="343.80" text-anchor="middle" font-size="10.0" >320</text>
<text x="157.10" y="343.80" text-anchor="middle" font-size="10.0" >330</text>
<text x="191.60" y="343.80" text-anchor="middle" font-size="10.0" >340</text>
<text x="40.00" y="322.10" text-anchor="end" font-size="10.0" >2.2</text>
<text x="40.00" y="283.72" text-anchor="end" font-size="10.0" >2.25</text>
<text x="40.00" y="245.33" text-anchor="end" font-size="10.0" >2.3</text>
<text x="40.00" y="206.95" text-anchor="end" font-size="10.0" >2.35</text>
<text x="124.00" y="357.90" text-anchor="middle" font-size="9.6" textLength="75.60" lengthAdjust="spacingAndGlyphs" >Temperature in K</text>
<text x="15.30" y="263.30" text-anchor="middle" font-size="9.6" transform="rotate(-90 15.30 263.30)" textLength="103.00" lengthAdjust="spacingAndGlyphs" >Heat capacity in J/(g K)</text>
<text x="271.60" y="343.80" text-anchor="middle" font-size="10.0" >300</text>
<text x="306.05" y="343.80" text-anchor="middle" font-size="10.0" >310</text>
<text x="340.50" y="343.80" text-anchor="middle" font-size="10.0" >320</text>
<text x="374.95" y="343.80" text-anchor="middle" font-size="10.0" >330</text>
<text x="409.40" y="343.80" text-anchor="middle" font-size="10.0" >340</text>
<text x="258.20" y="321.75" text-anchor="end" font-size="10.0" >0.135</text>
<text x="258.20" y="295.37" text-anchor="end" font-size="10.0" >0.140</text>
<text x="258.20" y="269.00" text-anchor="end" font-size="10.0" >0.145</text>
<text x="258.20" y="242.63" text-anchor="end" font-size="10.0" >0.150</text>
<text x="258.20" y="216.25" text-anchor="end" font-size="10.0" >0.155</text>
<text x="342.15" y="357.90" text-anchor="middle" font-size="9.6" textLength="75.60" lengthAdjust="spacingAndGlyphs" >Temperature in K</text>
<text x="226.40" y="263.45" text-anchor="middle" font-size="9.6" transform="rotate(-90 226.40 263.45)" textLength="148.90" lengthAdjust="spacingAndGlyphs" >Thermal conductivity in W/(m K)</text>
<text x="53.60" y="528.75" text-anchor="middle" font-size="10.0" >300</text>
<text x="88.10" y="528.75" text-anchor="middle" font-size="10.0" >310</text>
<text x="122.60" y="528.75" text-anchor="middle" font-size="10.0" >320</text>
<text x="157.10" y="528.75" text-anchor="middle" font-size="10.0" >330</text>
<text x="191.60" y="528.75" text-anchor="middle" font-size="10.0" >340</text>
<text x="40.00" y="494.65" text-anchor="end" font-size="10.0" >2</text>
<text x="40.00" y="448.50" text-anchor="end" font-size="10.0" >3</text>
<text x="40.00" y="402.35" text-anchor="end" font-size="10.0" >4</text>
<text x="124.00" y="542.85" text-anchor="middle" font-size="9.6" textLength="75.60" lengthAdjust="spacingAndGlyphs" >Temperature in K</text>
<text x="25.80" y="448.00" text-anchor="middle" font-size="9.6" transform="rotate(-90 25.80 448.00)" textLength="78.20" lengthAdjust="spacingAndGlyphs" >Viscosity in mPa s</text>
</g>
</svg>
</body></html>
